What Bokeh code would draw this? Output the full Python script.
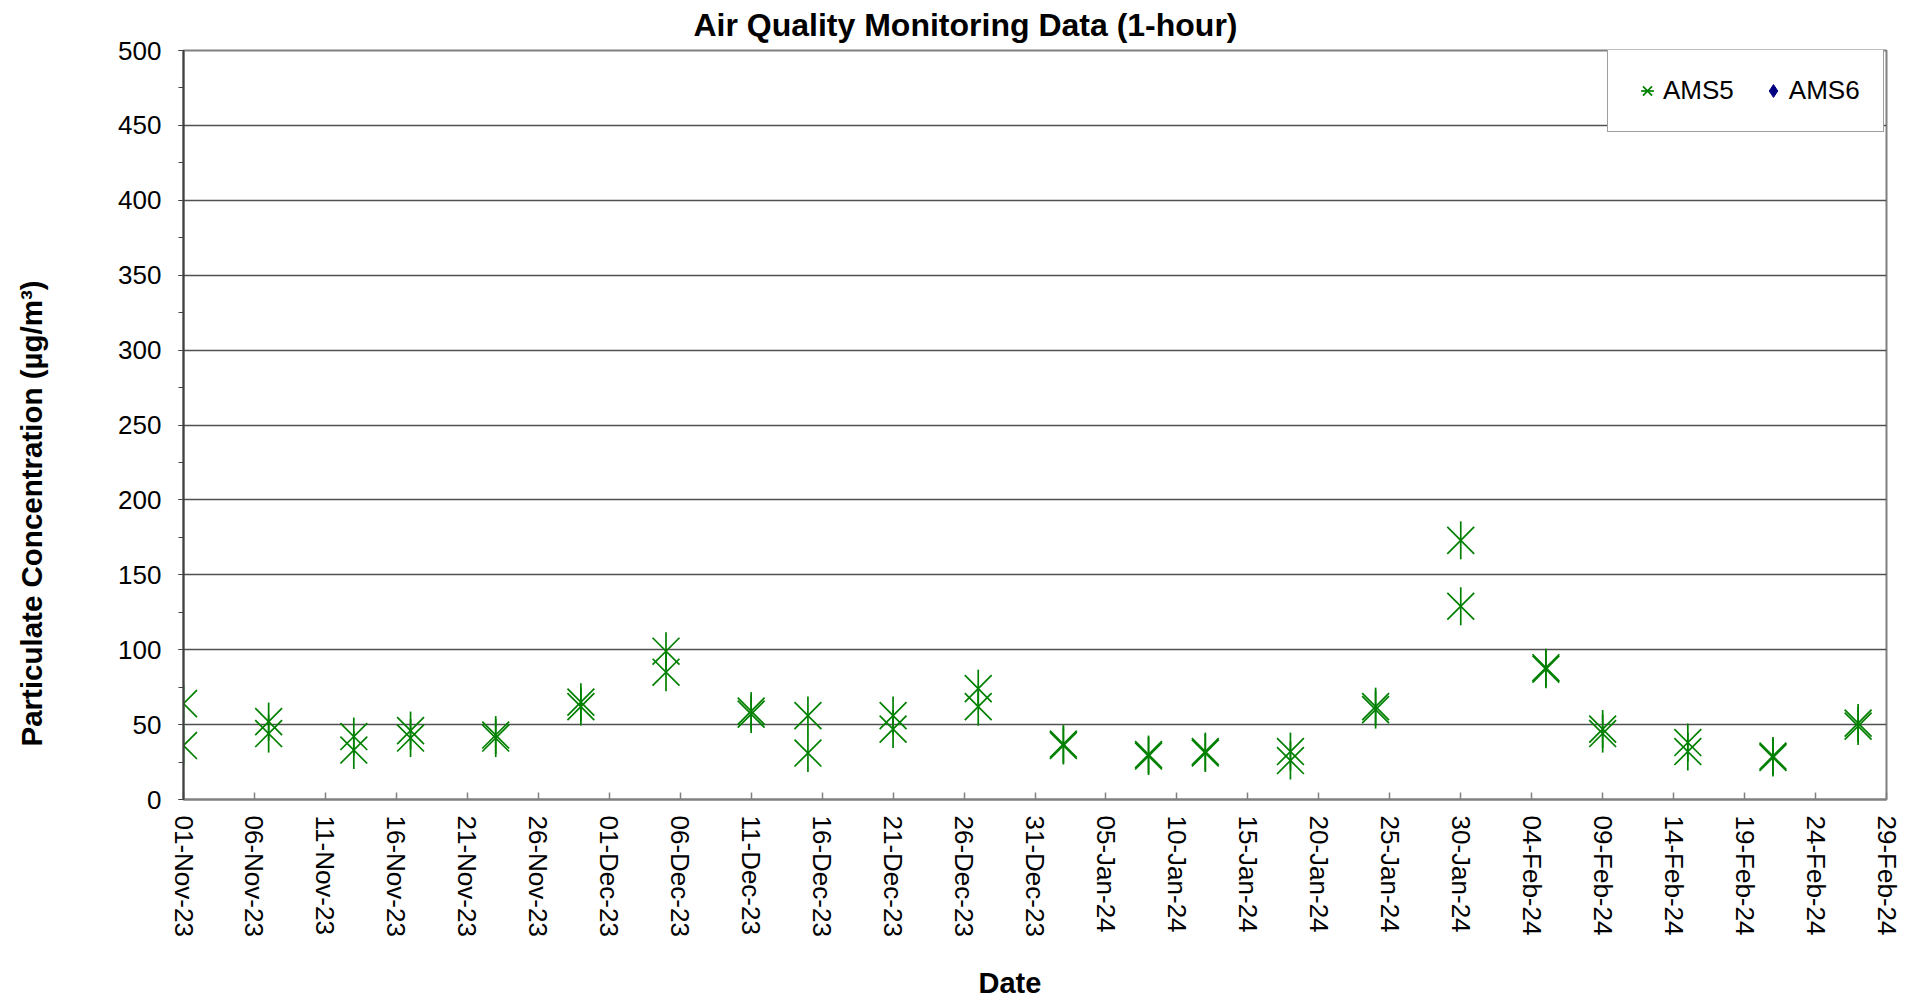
import pandas as pd
from math import pi
from bokeh.plotting import figure
from bokeh.models import (Range1d, FixedTicker, SingleIntervalTicker, DatetimeTickFormatter,
                          Legend, LegendItem, Title, ColumnDataSource)
from bokeh.embed import file_html
from bokeh.resources import INLINE

# ---- data ----
sample_dates = ["2023-11-01", "2023-11-07", "2023-11-13", "2023-11-17", "2023-11-23",
                "2023-11-29", "2023-12-05", "2023-12-11", "2023-12-15", "2023-12-21",
                "2023-12-27", "2024-01-02", "2024-01-08", "2024-01-12", "2024-01-18",
                "2024-01-24", "2024-01-30", "2024-02-05", "2024-02-09", "2024-02-15",
                "2024-02-21", "2024-02-27"]
ams5_reading_1 = [64, 52, 42, 46, 43, 65, 99, 59, 56, 56, 74, 36, 30, 31, 32, 62, 173, 88, 47, 38, 28, 51]
ams5_reading_2 = [36, 44, 33, 41, 41, 62, 85, 57, 31, 47, 62, 37, 29, 32, 26, 60, 129, 87, 44, 32, 29, 49]
# AMS6: no valid readings in the period (legend entry only)
ams6_dates = ["2023-11-01"]
ams6_values = [float("nan")]

x_start = "2023-11-01"
x_end = "2024-02-29"
x_tick_step_days = 5
y_max = 500
y_step = 50

# ---- figure ----
FONT = "Liberation Sans"
GREEN = "#008000"

p = figure(width=1912, height=1000, output_backend="svg", toolbar_location=None,
           x_axis_type="datetime",
           x_range=Range1d(pd.Timestamp(x_start), pd.Timestamp(x_end)),
           y_range=Range1d(0, y_max),
           min_border_left=183, min_border_right=26, min_border_top=50, min_border_bottom=201)
p.background_fill_color = "white"
p.border_fill_color = "white"
p.outline_line_color = "#808080"
p.outline_line_width = 2

all_dates = pd.to_datetime(sample_dates + sample_dates)
all_vals = ams5_reading_1 + ams5_reading_2
src5 = ColumnDataSource(dict(date=all_dates, value=all_vals))
src6 = ColumnDataSource(dict(date=pd.to_datetime(ams6_dates), value=ams6_values))

r_x = p.scatter("date", "value", source=src5, marker="x", size=38,
                line_color=GREEN, line_width=1.7)
r_v = p.scatter("date", "value", source=src5, marker="dash", angle=pi / 2, size=38,
                line_color=GREEN, line_width=1.7)
r6 = p.scatter("date", "value", source=src6, marker="diamond", size=18,
               fill_color="#000080", line_color="#000080")

# ---- axes ----
tick_ms = [pd.Timestamp(t).timestamp() * 1000
           for t in pd.date_range(x_start, x_end, freq=f"{x_tick_step_days}D")]
xa = p.xaxis[0]
xa.ticker = FixedTicker(ticks=tick_ms)
xa.formatter = DatetimeTickFormatter(days="%d-%b-%y", months="%d-%b-%y", years="%d-%b-%y")
xa.major_label_orientation = -pi / 2
xa.major_label_text_font = FONT
xa.major_label_text_font_size = "26px"
xa.major_label_text_color = "black"
xa.major_label_standoff = 16
xa.major_tick_in = 7
xa.major_tick_out = 0
xa.minor_tick_line_color = None
xa.axis_line_color = "#808080"
xa.axis_line_width = 2
xa.major_tick_line_color = "#808080"
xa.major_tick_line_width = 1.5

ya = p.yaxis[0]
ya.ticker = SingleIntervalTicker(interval=y_step, num_minor_ticks=2)
ya.major_label_text_font = FONT
ya.major_label_text_font_size = "26px"
ya.major_label_text_color = "black"
ya.major_label_standoff = 17
ya.major_tick_in = 0
ya.major_tick_out = 5
ya.minor_tick_in = 0
ya.minor_tick_out = 5
ya.axis_line_color = "#404040"
ya.axis_line_width = 2
ya.major_tick_line_color = "#404040"
ya.minor_tick_line_color = "#404040"

p.xgrid.grid_line_color = None
p.ygrid.ticker = SingleIntervalTicker(interval=y_step)
p.ygrid.grid_line_color = "#505050"
p.ygrid.grid_line_width = 1.5

# ---- legend ----
legend = Legend(items=[LegendItem(label="AMS5", renderers=[r_x, r_v]),
                       LegendItem(label="AMS6", renderers=[r6])],
                orientation="horizontal", location=(1424, 667), margin=0,
                padding=23, spacing=23, glyph_width=32, glyph_height=35,
                label_standoff=0, border_line_color="#404040", border_line_width=1.5,
                background_fill_color="white", background_fill_alpha=1,
                label_text_font=FONT, label_text_font_size="26px", label_text_color="black")
p.add_layout(legend, "center")

# ---- titles ----
p.title.text = "Air Quality Monitoring Data (1-hour)"
p.title.align = "left"
p.title.offset = 510
p.title.vertical_align = "top"
p.title.standoff = 11
p.title.text_line_height = 1.0
p.title.text_font = FONT
p.title.text_font_size = "32px"
p.title.text_font_style = "bold"
p.title.text_color = "black"

# left side: y axis | spacer | axis title
p.add_layout(Title(text="\u00a0", text_font=FONT, text_font_size="29px", standoff=33), "left")
p.add_layout(Title(text="Particulate Concentration (µg/m³)", align="left", offset=53,
                   vertical_align="middle", standoff=0, text_font=FONT,
                   text_font_size="29.5px", text_font_style="bold", text_color="black"), "left")

# below: x axis | spacer | axis title
p.add_layout(Title(text="\u00a0", text_font=FONT, text_font_size="10px", standoff=12), "below")
p.add_layout(Title(text="Date", align="left", offset=795, vertical_align="bottom", standoff=0,
                   text_font=FONT, text_font_size="29px", text_font_style="bold",
                   text_color="black"), "below")

open("out.html", "w").write(file_html(p, INLINE))
